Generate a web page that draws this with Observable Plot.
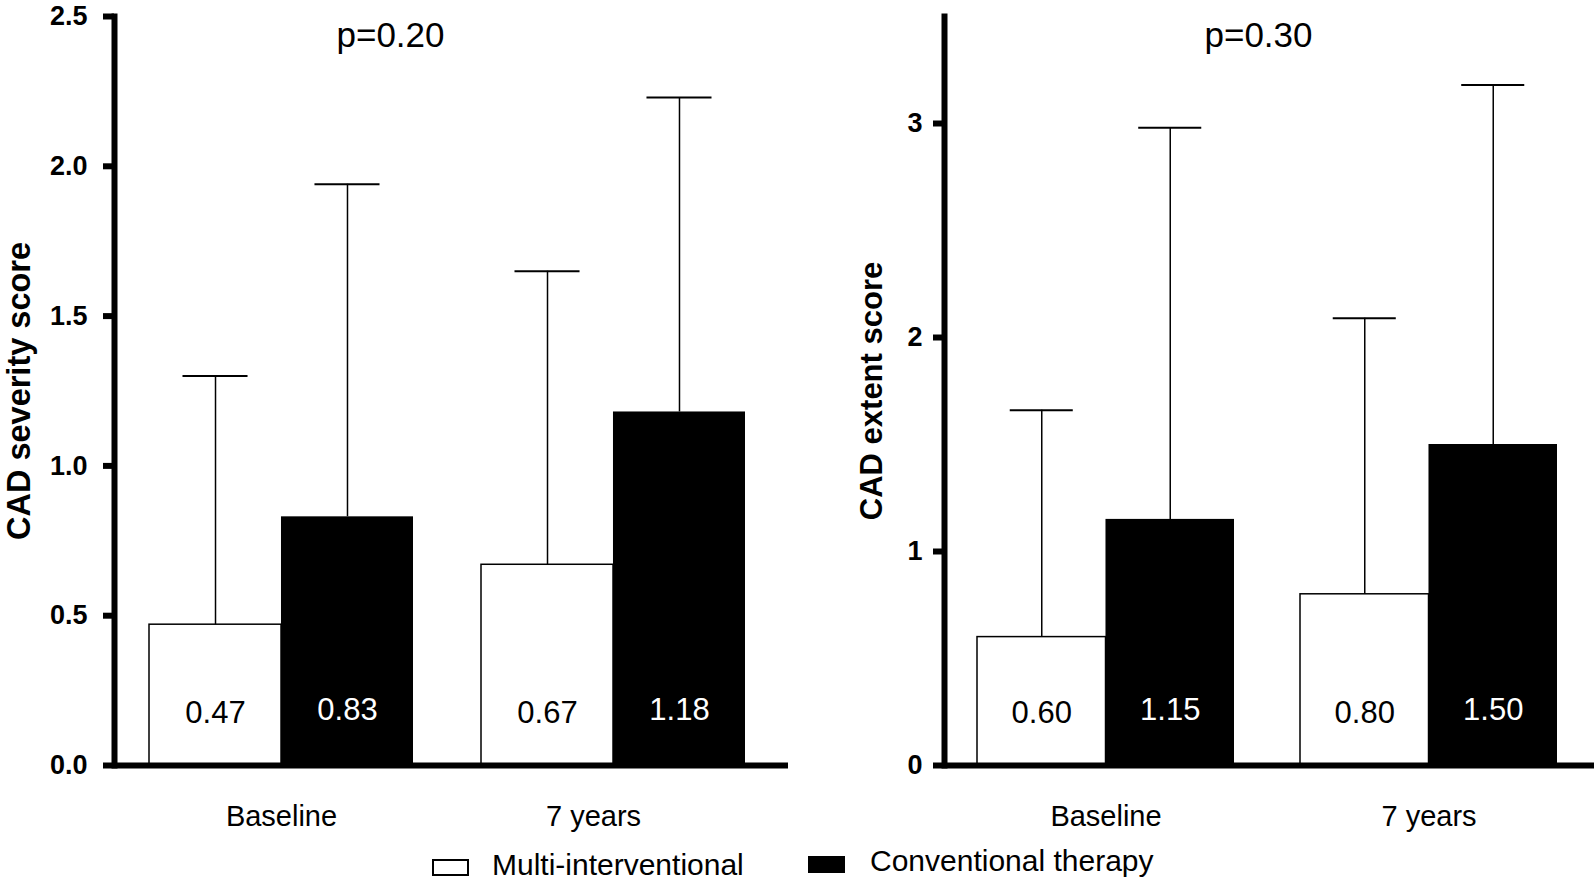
<!DOCTYPE html>
<html>
<head>
<meta charset="utf-8">
<script src="https://cdn.jsdelivr.net/npm/d3@7"></script>
<script src="https://cdn.jsdelivr.net/npm/@observablehq/plot@0.6"></script>
<style>
  html, body { margin: 0; padding: 0; background: #fff; }
  #wrap { position: relative; width: 1594px; height: 885px; overflow: hidden; font-family: "Liberation Sans", Arial, sans-serif; }
  #panels { position: absolute; left: 0; top: 0; display: flex; }
  #panels svg { display: block; }
  .lg-box { position: absolute; box-sizing: border-box; }
  .lg-text { position: absolute; font-size: 30px; line-height: 30px; color: #000; white-space: nowrap; }
</style>
</head>
<body>
<div id="wrap">
  <div id="panels"></div>
  <div class="lg-box" style="left:432px;top:859px;width:37px;height:17px;border:2px solid #000;background:#fff;"></div>
  <div class="lg-text" id="lg1" style="left:492px;top:850px;"></div>
  <div class="lg-box" style="left:808px;top:856px;width:37px;height:17px;background:#000;"></div>
  <div class="lg-text" id="lg2" style="left:870px;top:846px;"></div>
</div>
<script>
// ---- data ----
const categories = ["Baseline", "7 years"];
const seriesNames = ["Multi-interventional", "Conventional therapy"];

const severityMulti = [0.47, 0.67];
const severityConv = [0.83, 1.18];
const severityMultiUpper = [1.30, 1.65];
const severityConvUpper = [1.94, 2.23];
const severityTicks = [0, 0.5, 1.0, 1.5, 2.0, 2.5];
const severityLabel = "CAD severity score";
const severityP = "p=0.20";

const extentMulti = [0.60, 0.80];
const extentConv = [1.15, 1.50];
const extentMultiUpper = [1.66, 2.09];
const extentConvUpper = [2.98, 3.18];
const extentTicks = [0, 1, 2, 3];
const extentLabel = "CAD extent score";
const extentP = "p=0.30";

function rows(values, uppers, series) {
  return categories.map((c, i) => ({cat: c, series, value: values[i], upper: uppers[i]}));
}

function panel(cfg) {
  const extent = cfg.width - cfg.marginLeft - cfg.marginRight;
  const step = extent / (categories.length - cfg.paddingInner + 2 * cfg.paddingOuter);
  const bw = step * (1 - cfg.paddingInner);
  const half = bw / 2;
  const capInset = (half - cfg.capWidth) / 2;
  const multi = rows(cfg.multi, cfg.multiUpper, seriesNames[0]);
  const conv = rows(cfg.conv, cfg.convUpper, seriesNames[1]);
  const axesX = categories.map((c, i) => Plot.axisX({
    ticks: [c], tickSize: 0, tickPadding: 40, fontSize: 29, dx: cfg.catShift[i], label: null
  }));
  return Plot.plot({
    width: cfg.width,
    height: 840,
    marginLeft: cfg.marginLeft,
    marginRight: cfg.marginRight,
    marginTop: 16,
    marginBottom: 75,
    style: {fontFamily: '"Liberation Sans", Arial, sans-serif', color: "#000", background: "transparent", overflow: "visible"},
    x: {domain: categories, paddingInner: cfg.paddingInner, paddingOuter: cfg.paddingOuter, align: cfg.align, axis: null},
    y: {domain: [0, cfg.yMax], axis: null},
    marks: [
      Plot.barY(multi, {x: "cat", y: "value", fill: "white", stroke: "black", strokeWidth: 1.5, insetRight: half}),
      Plot.barY(conv, {x: "cat", y: "value", fill: "black", insetLeft: half}),
      Plot.ruleX(multi, {x: "cat", y1: "value", y2: "upper", dx: -half / 2, stroke: "black", strokeWidth: 1.5}),
      Plot.ruleX(conv, {x: "cat", y1: "value", y2: "upper", dx: half / 2, stroke: "black", strokeWidth: 1.5}),
      Plot.tickY(multi, {x: "cat", y: "upper", insetLeft: capInset, insetRight: half + capInset, stroke: "black", strokeWidth: 2}),
      Plot.tickY(conv, {x: "cat", y: "upper", insetLeft: half + capInset, insetRight: capInset, stroke: "black", strokeWidth: 2}),
      Plot.text(multi, {x: "cat", text: d => d.value.toFixed(2), frameAnchor: "bottom", dx: -half / 2, dy: -43, fill: "black", fontSize: 31}),
      Plot.text(conv, {x: "cat", text: d => d.value.toFixed(2), frameAnchor: "bottom", dx: half / 2, dy: -46, fill: "white", fontSize: 31}),
      Plot.ruleY([0], {stroke: "black", strokeWidth: 6}),
      Plot.frame({anchor: "left", stroke: "black", strokeWidth: 6}),
      Plot.axisY({ticks: cfg.ticks, tickFormat: cfg.tickFormat, tickSize: 11, tickPadding: cfg.tickPadding,
                  strokeWidth: 6, fontSize: 27, fontWeight: "bold", label: null}),
      ...axesX,
      Plot.text([cfg.yLabel], {frameAnchor: "left", textAnchor: "middle", rotate: -90, dx: cfg.yLabelDx, fontSize: cfg.yLabelSize, fontWeight: "bold", fill: "black"}),
      Plot.text([cfg.pLabel], {frameAnchor: "top-left", textAnchor: "middle", dx: cfg.pDx, dy: 6, fontSize: 35, fill: "black"})
    ]
  });
}

const left = panel({
  width: 800, marginLeft: 114, marginRight: 12,
  paddingInner: 0.205, paddingOuter: 0.1175, align: 0.45, capWidth: 65,
  multi: severityMulti, conv: severityConv, multiUpper: severityMultiUpper, convUpper: severityConvUpper,
  yMax: 2.5, ticks: severityTicks, tickFormat: d3.format(".1f"), tickPadding: 16,
  yLabel: severityLabel, yLabelDx: -95, yLabelSize: 32.5, pLabel: severityP, pDx: 276, catShift: [0, -20]
});
const right = panel({
  width: 794, marginLeft: 144, marginRight: 0,
  paddingInner: 0.205, paddingOuter: 0.108, align: 0.47, capWidth: 63,
  multi: extentMulti, conv: extentConv, multiUpper: extentMultiUpper, convUpper: extentConvUpper,
  yMax: 3.5, ticks: extentTicks, tickFormat: d3.format("d"), tickPadding: 11,
  yLabel: extentLabel, yLabelDx: -72, yLabelSize: 31, pLabel: extentP, pDx: 314, catShift: [0, 0]
});
document.getElementById("panels").append(left, right);
document.getElementById("lg1").textContent = seriesNames[0];
document.getElementById("lg2").textContent = seriesNames[1];
</script>
</body>
</html>
